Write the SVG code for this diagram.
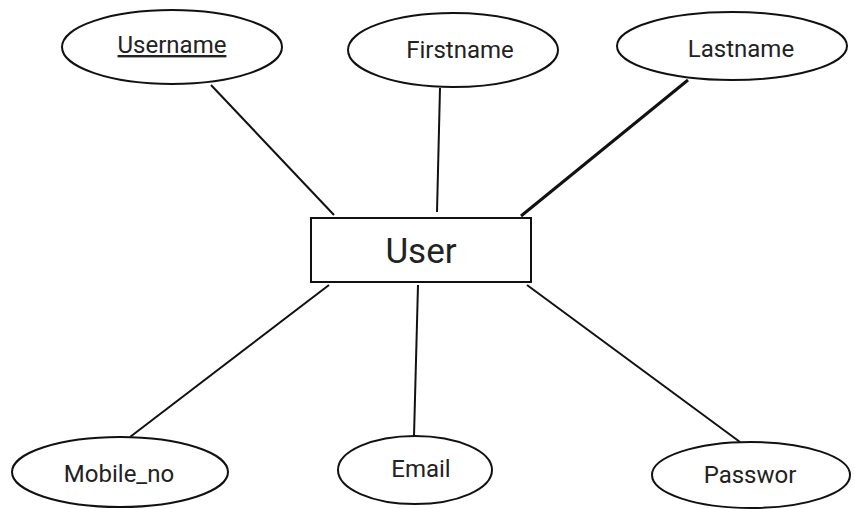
<svg xmlns="http://www.w3.org/2000/svg" width="855" height="509" viewBox="0 0 855 509">
<style>
.shape{fill:#fff;stroke:#111;stroke-width:2}
.lbl{font-family:Roboto,"Liberation Sans",sans-serif;font-size:24px;fill:#222;text-anchor:middle}
.conn line{stroke:#111;stroke-width:2}
</style>
<rect width="855" height="509" fill="#fff"/>
<g id="connectors" class="conn">
<line x1="211" y1="85" x2="334" y2="215"/>
<line x1="440" y1="88" x2="437" y2="212"/>
<line x1="688" y1="80" x2="521" y2="216" style="stroke-width:3"/>
<line x1="329" y1="285" x2="130" y2="437"/>
<line x1="418" y1="285" x2="414" y2="436"/>
<line x1="527" y1="285" x2="740" y2="442"/>
</g>
<g id="user">
<rect class="shape" x="311" y="218" width="220" height="64"/>
<text class="lbl" x="421" y="263" style="font-size:35px">User</text>
</g>
<g id="username">
<ellipse class="shape" cx="172" cy="47" rx="110" ry="37"/>
<text class="lbl" x="172" y="53" text-decoration="underline">Username</text>
</g>
<g id="firstname">
<ellipse class="shape" cx="453" cy="50" rx="105" ry="37"/>
<text class="lbl" x="460" y="58">Firstname</text>
</g>
<g id="lastname">
<ellipse class="shape" cx="732" cy="46" rx="115" ry="34"/>
<text class="lbl" x="741" y="57">Lastname</text>
</g>
<g id="mobile_no">
<ellipse class="shape" cx="120" cy="472" rx="108" ry="35"/>
<text class="lbl" x="119" y="482">Mobile_no</text>
</g>
<g id="email">
<ellipse class="shape" cx="415" cy="470" rx="77" ry="34"/>
<text class="lbl" x="421" y="477">Email</text>
</g>
<g id="passwor">
<ellipse class="shape" cx="751" cy="475" rx="99" ry="33"/>
<text class="lbl" x="750" y="483">Passwor</text>
</g>
</svg>
